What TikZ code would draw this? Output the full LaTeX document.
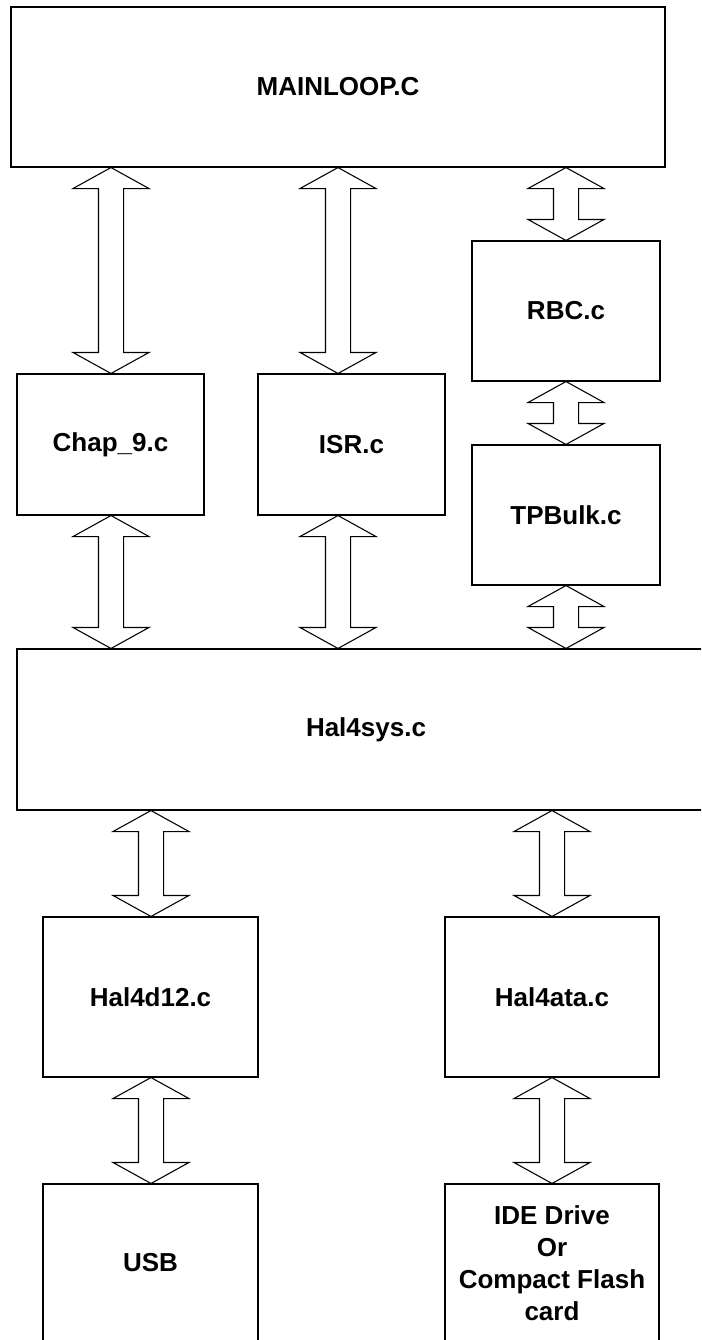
\documentclass[tikz,border=0pt]{standalone}
\usepackage{fontspec}
\setmainfont{Liberation Sans}
\usetikzlibrary{calc}

% Hollow double-headed block arrow running vertically from #1 (top) to #2 (bottom)
\newcommand\linkarrow[2]{%
  \path[draw, fill=white, line width=0.8pt, line join=miter]
    let \p1=#1, \p2=#2 in
    (\x1,\y1) -- (\x1+28.5pt,\y1-15.75pt) -- (\x1+9.4pt,\y1-15.75pt)
    -- (\x1+9.4pt,\y2+15.75pt) -- (\x1+28.5pt,\y2+15.75pt) -- (\x1,\y2)
    -- (\x1-28.5pt,\y2+15.75pt) -- (\x1-9.4pt,\y2+15.75pt)
    -- (\x1-9.4pt,\y1-15.75pt) -- (\x1-28.5pt,\y1-15.75pt) -- cycle;}

\begin{document}
\begin{tikzpicture}[x=0.75pt, y=-0.75pt,
  module/.style={draw, line width=0.8pt, rectangle, inner sep=0pt, align=center,
    font=\fontsize{19.5pt}{24pt}\selectfont\bfseries}]
\useasboundingbox (0,0) rectangle (701,1340);
\clip (0,0) rectangle (701,1340);

% modules
\node[module, minimum width=490.5pt, minimum height=120pt]   (main)   at (338,87)      {MAINLOOP.C};
\node[module, minimum width=140.25pt, minimum height=105.75pt] (chap) at (110.5,444.5) {Chap\_9.c};
\node[module, minimum width=140.25pt, minimum height=105.75pt] (isr)  at (351.5,444.5) {ISR.c};
\node[module, minimum width=141pt, minimum height=105pt]     (rbc)    at (566,311)     {RBC.c};
\node[module, minimum width=141pt, minimum height=105pt]     (tpbulk) at (566,515)     {TPBulk.c};
\node[module, minimum width=523.5pt, minimum height=120.75pt] (hal)   at (366,729.5)   {Hal4sys.c};
\node[module, minimum width=161.25pt, minimum height=120pt]  (d12)    at (150.5,997)   {Hal4d12.c};
\node[module, minimum width=160.5pt, minimum height=120pt]   (ata)    at (552,997)     {Hal4ata.c};
\node[module, minimum width=161.25pt, minimum height=118.5pt] (usb)   at (150.5,1263)  {USB};
\node[module, minimum width=160.5pt, minimum height=118.5pt] (ide)    at (552,1263)
  {IDE Drive\\Or\\Compact Flash\\card};

% columns of the connecting arrows
\coordinate (c1) at (111,0);
\coordinate (c2) at (338,0);
\coordinate (c3) at (566,0);
\coordinate (c4) at (151,0);
\coordinate (c5) at (552,0);

% connectors
\linkarrow{(main.south -| c1)}{(chap.north -| c1)}
\linkarrow{(main.south -| c2)}{(isr.north -| c2)}
\linkarrow{(main.south -| c3)}{(rbc.north -| c3)}
\linkarrow{(rbc.south -| c3)}{(tpbulk.north -| c3)}
\linkarrow{(tpbulk.south -| c3)}{(hal.north -| c3)}
\linkarrow{(chap.south -| c1)}{(hal.north -| c1)}
\linkarrow{(isr.south -| c2)}{(hal.north -| c2)}
\linkarrow{(hal.south -| c4)}{(d12.north -| c4)}
\linkarrow{(hal.south -| c5)}{(ata.north -| c5)}
\linkarrow{(d12.south -| c4)}{(usb.north -| c4)}
\linkarrow{(ata.south -| c5)}{(ide.north -| c5)}
\end{tikzpicture}
\end{document}
